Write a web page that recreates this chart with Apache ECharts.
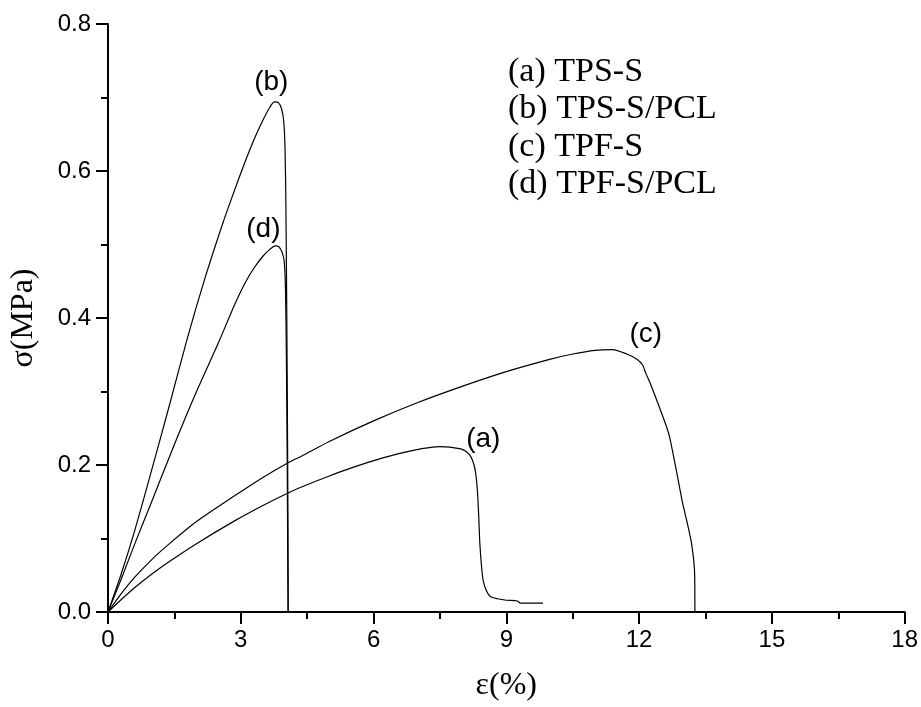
<!DOCTYPE html>
<html>
<head>
<meta charset="utf-8">
<script src="https://cdn.jsdelivr.net/npm/echarts@6/dist/echarts.min.js"></script>
<style>
	html, body { margin: 0; padding: 0; background: #fff; }
	#main { width: 921px; height: 707px; }
</style>
</head>
<body>
<div id="main"></div>
<script type="text/javascript">
	// strain (%) / stress (MPa)
	var curveA = [[0,0],[0.3,0.017],[0.6,0.033],[1.0,0.052],[1.37,0.068],[2.0,0.093],[2.86,0.124],[3.5,0.145],[4.07,0.162],[4.37,0.170],[5.0,0.185],[5.5,0.196],[6.17,0.209],[6.9,0.220],[7.5,0.225],[7.97,0.222],[8.1,0.218],[8.2,0.211],[8.27,0.200],[8.31,0.188],[8.35,0.162],[8.38,0.125],[8.4,0.095],[8.44,0.062],[8.48,0.042],[8.55,0.029],[8.64,0.021],[8.8,0.018],[9.0,0.016],[9.25,0.015],[9.32,0.012],[9.83,0.012]];
	var curveB = [[0,0],[0.3,0.052],[0.6,0.11],[1.0,0.196],[1.4,0.284],[1.8,0.374],[2.2,0.456],[2.6,0.53],[2.86,0.574],[3.1,0.613],[3.3,0.643],[3.5,0.669],[3.65,0.686],[3.76,0.694],[3.85,0.693],[3.92,0.685],[3.97,0.668],[4.0,0.63],[4.02,0.55],[4.04,0.4],[4.06,0.2],[4.07,0.05],[4.07,0]];
	var curveC = [[0,0],[0.3,0.025],[0.6,0.047],[1.0,0.072],[1.37,0.092],[2.0,0.123],[2.86,0.158],[3.5,0.183],[4.07,0.203],[4.37,0.212],[5.0,0.232],[6.0,0.260],[7.0,0.285],[8.0,0.307],[9.0,0.327],[10.0,0.344],[10.5,0.351],[11.0,0.356],[11.4,0.357],[11.72,0.351],[11.95,0.344],[12.08,0.336],[12.15,0.325],[12.24,0.313],[12.45,0.28],[12.62,0.252],[12.69,0.238],[12.85,0.19],[12.98,0.149],[13.1,0.118],[13.18,0.095],[13.25,0.059],[13.26,0.02],[13.26,0]];
	var curveD = [[0,0],[0.3,0.045],[0.6,0.092],[1.0,0.152],[1.5,0.228],[2.0,0.3],[2.5,0.367],[2.86,0.418],[3.1,0.448],[3.31,0.469],[3.5,0.484],[3.65,0.493],[3.78,0.498],[3.86,0.497],[3.93,0.49],[3.98,0.478],[4.01,0.44],[4.03,0.35],[4.05,0.2],[4.06,0.08],[4.07,0]];

	var labelText = ['(a)', '(b)', '(c)', '(d)'];
	var labelPos = [[8.48,0.2345],[3.69,0.721],[12.15,0.378],[3.51,0.521]];
	var legendLines = ['(a) TPS-S', '(b) TPS-S/PCL', '(c) TPF-S', '(d) TPF-S/PCL'];

	var dom = document.getElementById("main");
	var myChart = echarts.init(dom);
	var option = null;

	function curve(name, data) {
		return {
			name: name,
			type: 'line',
			data: data,
			showSymbol: false,
			smooth: 0.25,
			lineStyle: { color: '#000', width: 1.2 },
			emphasis: { disabled: true }
		};
	}

	var axisCommon = {
		type: 'value',
		nameLocation: 'middle',
		nameTextStyle: { fontFamily: 'Liberation Serif', fontSize: 32, color: '#000' },
		axisLine: { onZero: false, lineStyle: { color: '#000', width: 2 } },
		axisTick: { inside: false, length: 12, lineStyle: { color: '#000', width: 2 } },
		minorTick: { show: true, splitNumber: 2, length: 7, lineStyle: { color: '#000', width: 2 } },
		splitLine: { show: false },
		minorSplitLine: { show: false }
	};

	var labelData = labelPos.map(function (p, i) {
		return { value: p, name: labelText[i] };
	});

	option = {
		animation: false,
		backgroundColor: '#fff',
		grid: { left: 106, right: 15, top: 24, bottom: 86 },
		xAxis: echarts.util.merge({
			min: 0, max: 18, interval: 3,
			name: 'ε(%)',
			nameGap: 58,
			axisLabel: { fontFamily: 'Liberation Sans', fontSize: 24, color: '#000', margin: 16 }
		}, axisCommon),
		yAxis: echarts.util.merge({
			min: 0, max: 0.8, interval: 0.2,
			name: 'σ(MPa)',
			nameGap: 68,
			axisLabel: {
				fontFamily: 'Liberation Sans', fontSize: 24, color: '#000', margin: 17,
				formatter: function (v) { return v.toFixed(1); }
			}
		}, axisCommon),
		graphic: [{
			type: 'text',
			left: 508,
			top: 53,
			style: {
				text: legendLines.join('\n'),
				font: '34px "Liberation Serif"',
				lineHeight: 37.5,
				fill: '#000'
			}
		}],
		series: [
			curve('a', curveA),
			curve('b', curveB),
			curve('c', curveC),
			curve('d', curveD),
			{
				name: 'labels',
				type: 'scatter',
				symbolSize: 0,
				itemStyle: { opacity: 1 },
				data: labelData,
				label: {
					show: true,
					position: [0, 0],
					align: 'center',
					verticalAlign: 'middle',
					formatter: '{b}',
					fontFamily: 'Liberation Sans',
					fontSize: 28,
					color: '#000',
					opacity: 1
				},
				emphasis: { disabled: true }
			}
		]
	};

	if (option && typeof option === "object") {
		myChart.setOption(option, true);
	}
</script>
</body>
</html>
